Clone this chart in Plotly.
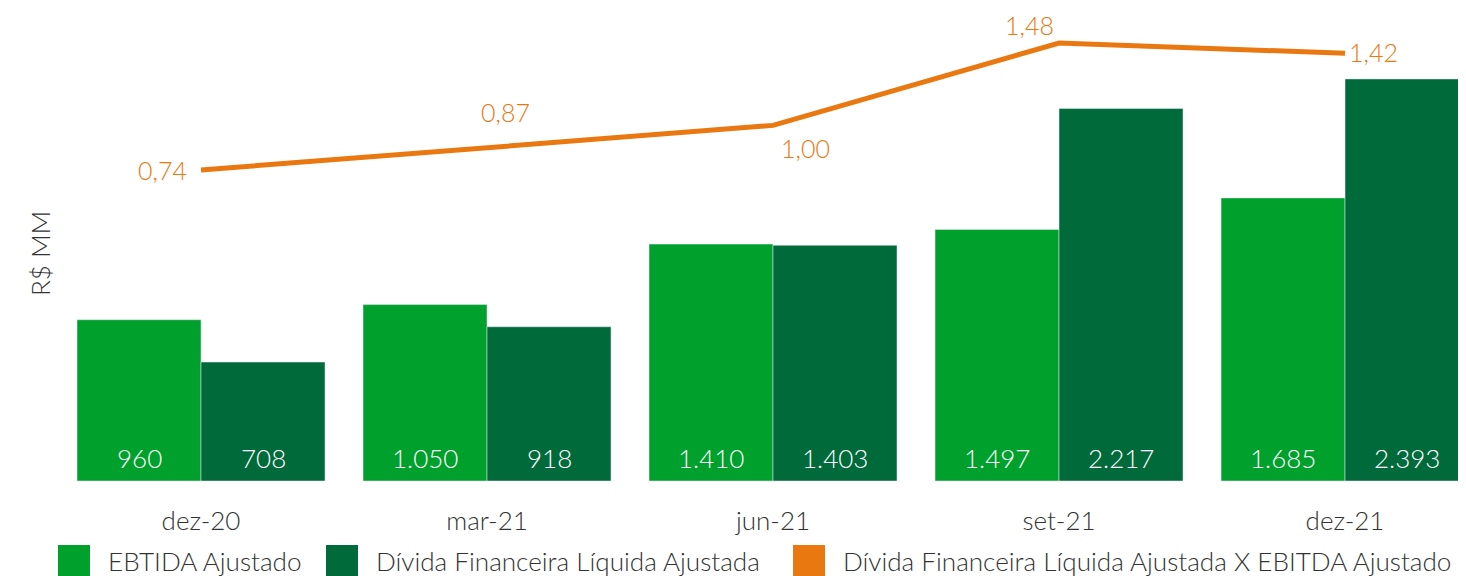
import plotly.graph_objects as go

categories = ["dez-20", "mar-21", "jun-21", "set-21", "dez-21"]
ebitda = [960, 1050, 1410, 1497, 1685]
divida = [708, 918, 1403, 2217, 2393]
ratio = [0.74, 0.87, 1.00, 1.48, 1.42]
series_names = ["EBTIDA Ajustado", "Dívida Financeira Líquida Ajustada",
                "Dívida Financeira Líquida Ajustada X EBITDA Ajustado"]

def br_int(v):
    return f"{v:,}".replace(",", ".")

def br_dec(v):
    return f"{v:.2f}".replace(".", ",")

C_LIGHT = "#00A02D"
C_DARK = "#006A3B"
C_ORANGE = "#E8780F"
C_TEXT = "#333333"
FONT = "Lato"

OFF = 8  # page body margin
W, H = 1466 - OFF, 576 - OFF
L, R, T, B = 58 - OFF, 0, 20 - OFF, 576 - 481
PW, PH = W - L - R, H - T - B

def px(x):  # page pixel -> paper x
    return (x - OFF - L) / PW

def py(y):  # page pixel -> paper y
    return (H - B - (y - OFF)) / PH

fig = go.Figure()
fig.add_trace(go.Bar(x=categories, y=ebitda, name=series_names[0], marker_color=C_LIGHT,
                     offsetgroup="a", showlegend=False))
fig.add_trace(go.Bar(x=categories, y=divida, name=series_names[1], marker_color=C_DARK,
                     offsetgroup="b", showlegend=False))
fig.add_trace(go.Scatter(x=categories, y=ratio, name=series_names[2], mode="lines",
                         line=dict(color=C_ORANGE, width=5), yaxis="y2", showlegend=False))

annotations = []
# bar value labels near the base of each bar
for vals, dx in ((ebitda, -62), (divida, 62)):
    for c, v in zip(categories, vals):
        annotations.append(dict(x=c, y=0, xref="x", yref="y", text=br_int(v), showarrow=False,
                                xshift=dx, yshift=23, xanchor="center", yanchor="middle",
                                font=dict(color="white", size=26, family=FONT, weight=300)))

# line label offsets (style only)
offsets = [(-12, 0, "right"), (18, 36, "center"), (32, -23, "center"), (-30, 18, "center"), (2, 1, "left")]
for c, v, (dx, dy, xa) in zip(categories, ratio, offsets):
    annotations.append(dict(x=c, y=v, xref="x", yref="y2", text=br_dec(v), showarrow=False,
                            xshift=dx, yshift=dy, xanchor=xa, yanchor="middle",
                            font=dict(color=C_ORANGE, size=25, family=FONT, weight=300)))

# y axis title
annotations.append(dict(x=px(40), y=py(254), xref="paper", yref="paper", text="R$ MM",
                        textangle=-90, showarrow=False, xanchor="center", yanchor="middle",
                        font=dict(color=C_TEXT, size=26, family=FONT, weight=300)))

# manual legend
shapes = []
leg = [(58, C_LIGHT, 106), (326, C_DARK, 374), (793, C_ORANGE, 841)]
for (sx, col, tx), name in zip(leg, series_names):
    shapes.append(dict(type="rect", xref="paper", yref="paper", x0=px(sx), x1=px(sx + 32),
                       y0=py(578), y1=py(545), fillcolor=col, line_width=0))
    annotations.append(dict(x=px(tx), y=py(561), xref="paper", yref="paper", text=name,
                            showarrow=False, xanchor="left", yanchor="middle",
                            font=dict(color=C_TEXT, size=26.1, family=FONT, weight=300)))

fig.update_layout(
    width=W, height=H,
    margin=dict(l=L, r=R, t=T, b=B, pad=0),
    plot_bgcolor="white", paper_bgcolor="white",
    barmode="group", bargap=0.133, bargroupgap=0,
    xaxis=dict(range=[-0.5, 4.423], showgrid=False, showline=False, zeroline=False,
               ticks="", tickfont=dict(size=26, color=C_TEXT, family=FONT, weight=300),
               ticklabelstandoff=22),
    yaxis=dict(range=[0, PH / 0.168], visible=False),
    yaxis2=dict(range=[0.74 - (481 - 170) / 171.6, 0.74 + (170 - 20) / 171.6],
                overlaying="y", visible=False),
    shapes=shapes, annotations=annotations,
)

fig.write_html("out.html")
